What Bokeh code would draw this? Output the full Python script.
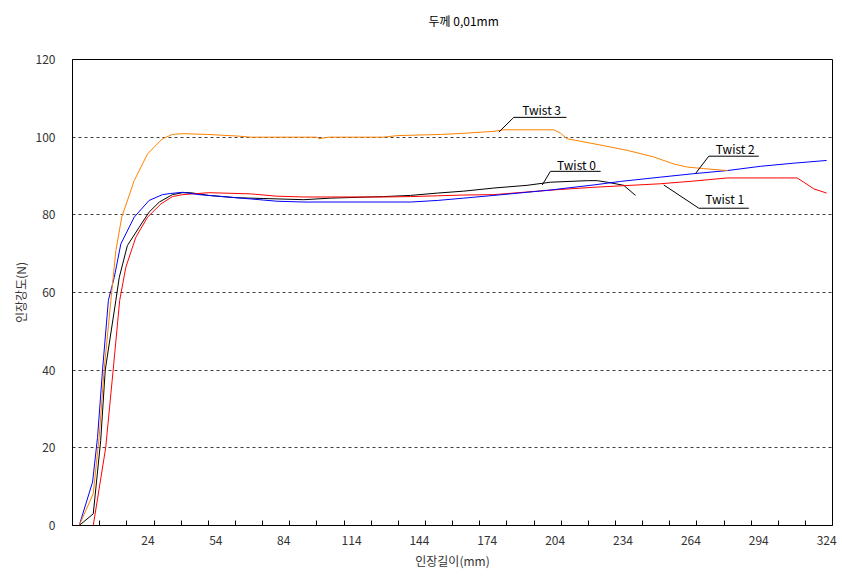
from bokeh.plotting import figure
from bokeh.models import FixedTicker, Range1d, Label, ColumnDataSource, Title
from bokeh.embed import file_html
from bokeh.resources import INLINE

# ---- data ----
twist0_x = [-6.4, -0.2, 3.1, 5.1, 9.8, 11.3, 14.9, 20.1, 24.5, 29.0, 34.8, 39.3, 42.8, 50.9, 63.4, 75.2, 92.9,
            104.7, 128.2, 140.1, 151.9, 163.6, 176.9, 191.6, 201.9, 218.2, 222.6, 227.0, 234.3, 239.5]
twist0_y = [0, 3.0, 21.9, 40, 58, 63.9, 72.1, 76.8, 80.7, 83.3, 85.2, 85.7, 85.7, 85.0, 84.4, 84.2, 83.9,
            84.3, 84.7, 85.0, 85.6, 86.1, 86.9, 87.6, 88.4, 88.8, 88.8, 88.4, 87.6, 85.0]

twist1_x = [-3.5, -0.2, 5.3, 8.6, 11.5, 14.2, 18.6, 23.8, 29.7, 34.8, 39.3, 50.9, 69.3, 81.1, 92.9, 128.2,
            140.1, 151.9, 163.6, 176.9, 200.5, 221.1, 250.5, 265.3, 280.1, 302.2, 311.0, 313.9, 318.3, 324.0]
twist1_y = [0, 0, 20, 40, 58, 66.5, 74.2, 79.4, 82.8, 84.7, 85.2, 85.7, 85.4, 84.8, 84.6, 84.6,
            84.7, 84.9, 85.1, 85.2, 86.3, 87.1, 88.0, 88.7, 89.5, 89.5, 89.5, 88.4, 86.7, 85.6]

twist2_x = [-6.4, -0.5, 1.7, 3.9, 6.5, 9.1, 12.0, 17.9, 24.5, 30.4, 34.0, 39.3, 46.5, 56.8, 69.3, 81.1, 92.9,
            140.1, 151.9, 163.6, 176.9, 200.5, 221.1, 232.9, 250.5, 265.3, 280.1, 294.8, 309.5, 324.0]
twist2_y = [0, 11.2, 22.7, 40, 58, 63.9, 72.5, 79.4, 83.7, 85.2, 85.5, 85.8, 85.2, 84.7, 84.1, 83.5, 83.3,
            83.3, 83.7, 84.3, 85.0, 86.3, 87.7, 88.6, 89.7, 90.6, 91.4, 92.5, 93.3, 94.0]

twist3_x = [-6.4, -0.2, 2.4, 4.6, 7.6, 9.8, 12.4, 17.9, 23.8, 30.4, 34.8, 39.3, 50.2, 63.4, 69.3, 98.8, 99.5,
            103.9, 128.2, 134.2, 153.3, 163.6, 176.9, 181.3, 203.4, 206.4, 209.3, 221.1, 235.9, 247.6, 256.4,
            262.4, 269.7, 280.1]
twist3_y = [0, 8.2, 22.7, 40, 58, 70.8, 79.4, 88.8, 95.7, 99.6, 100.7, 100.9, 100.7, 100.3, 100.0, 100.0, 99.6,
            100.0, 100.0, 100.4, 100.7, 101.0, 101.5, 101.9, 101.9, 101.0, 99.6, 98.3, 96.6, 94.9, 93.1,
            92.3, 91.9, 91.4]

series_names = ["Twist 0", "Twist 1", "Twist 2", "Twist 3"]
series_colors = ["#000000", "#ff0000", "#0000ff", "#ff8000"]

x_tick_values = [24, 54, 84, 114, 144, 174, 204, 234, 264, 294, 324]
x_minor_ticks = [2.7 + 12.0 * k for k in range(27)]
y_tick_values = [0, 20, 40, 60, 80, 100, 120]

# callout labels: text position, underline (x0, x1, y), leader end point
callout_text = ["Twist 3", "Twist 0", "Twist 2", "Twist 1"]
callout_tx = [198.0, 213.4, 283.6, 278.9]
callout_ty = [107.2, 93.0, 97.1, 84.1]
callout_ux0 = [185.7, 201.9, 271.9, 267.5]
callout_ux1 = [209.0, 224.1, 294.0, 289.6]
callout_uy = [105.1, 91.2, 95.1, 81.7]
callout_lx = [179.1, 198.3, 266.0, 252.0]
callout_ly = [101.3, 87.7, 90.6, 87.7]

title_text = "두께 0,01mm"
x_label = "인장길이(mm)"
y_label = "인장강도(N)"

FONT = "Noto Sans CJK KR"

p = figure(frame_width=760, frame_height=466, output_backend="svg", toolbar_location=None,
           x_range=Range1d(-9.37, 326.6), y_range=Range1d(0, 120),
           min_border_left=72, min_border_top=59, min_border_right=6, min_border_bottom=45)
p.background_fill_color = "white"
p.border_fill_color = "white"
p.outline_line_color = "#000000"
p.outline_line_width = 1

# empty spacer between frame and title, then the title itself
p.add_layout(Title(text=" ", text_font=FONT, text_font_size="16px", standoff=0), "above")
p.add_layout(Title(text=title_text, align="left", offset=356, text_font=FONT, text_font_size="12px",
                   text_font_style="normal", text_color="#000000"), "above")

xs = [twist0_x, twist1_x, twist2_x, twist3_x]
ys = [twist0_y, twist1_y, twist2_y, twist3_y]
for xv, yv, c in zip(xs, ys, series_colors):
    p.line(xv, yv, line_color=c, line_width=1)

# callouts
seg_src = ColumnDataSource(dict(
    x0=callout_ux0 + callout_ux0, y0=callout_uy + callout_uy,
    x1=callout_ux1 + callout_lx, y1=callout_uy + callout_ly))
p.segment(x0="x0", y0="y0", x1="x1", y1="y1", source=seg_src, line_color="#000000", line_width=1)
for t, tx, ty in zip(callout_text, callout_tx, callout_ty):
    p.add_layout(Label(x=tx, y=ty, text=t, text_align="center", text_baseline="middle",
                       text_font=FONT, text_font_size="12px", text_color="#000000"))

# axes
xa = p.xaxis[0]
xa.ticker = FixedTicker(ticks=x_tick_values, minor_ticks=x_minor_ticks)
xa.major_tick_line_color = None
xa.major_tick_in = 0
xa.major_tick_out = 0
xa.minor_tick_in = 5
xa.minor_tick_out = 0
xa.minor_tick_line_color = "#000000"
xa.axis_line_color = "#000000"
xa.major_label_standoff = 10
xa.major_label_text_font = FONT
xa.major_label_text_font_size = "12px"
xa.major_label_text_color = "#333333"
xa.axis_label = x_label
xa.axis_label_text_font = FONT
xa.axis_label_text_font_size = "12px"
xa.axis_label_text_font_style = "normal"
xa.axis_label_standoff = 4
xa.axis_label_text_color = "#333333"

ya = p.yaxis[0]
ya.ticker = FixedTicker(ticks=y_tick_values)
ya.major_tick_line_color = None
ya.major_tick_in = 0
ya.major_tick_out = 0
ya.minor_tick_line_color = None
ya.axis_line_color = "#000000"
ya.major_label_standoff = 17
ya.major_label_text_font = FONT
ya.major_label_text_font_size = "12px"
ya.major_label_text_color = "#333333"
ya.axis_label = y_label
ya.axis_label_text_font = FONT
ya.axis_label_text_font_size = "12px"
ya.axis_label_text_font_style = "normal"
ya.axis_label_standoff = 4
ya.axis_label_text_color = "#333333"

p.xgrid.grid_line_color = None
p.ygrid.grid_line_color = "#404040"
p.ygrid.grid_line_dash = "3 3"
p.ygrid.grid_line_width = 1

open("out.html", "w").write(file_html(p, INLINE))
